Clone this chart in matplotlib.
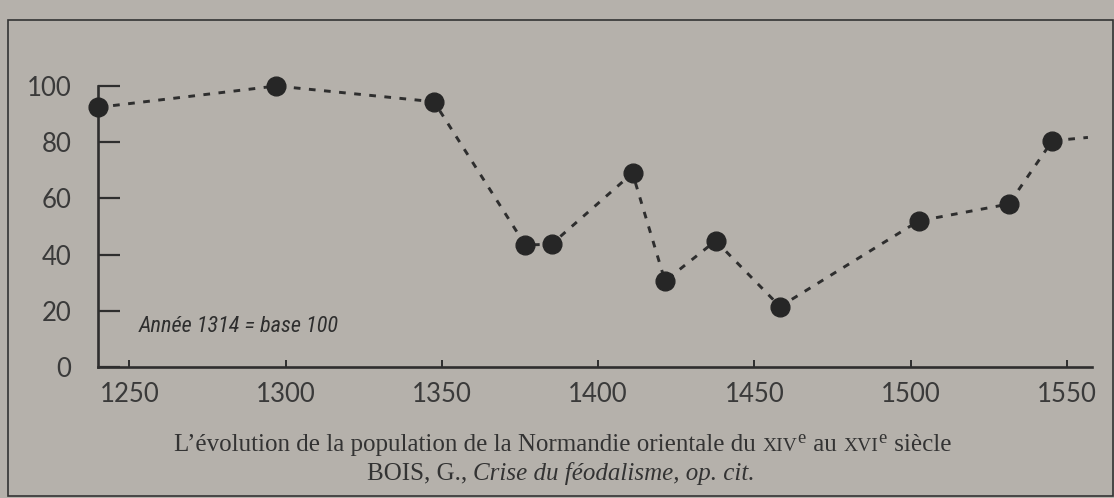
import matplotlib
matplotlib.use("Agg")
import matplotlib.pyplot as plt
import matplotlib.font_manager as fm
from matplotlib.patches import Rectangle
from matplotlib.offsetbox import TextArea, HPacker, AnnotationBbox

plt.rcParams["mathtext.fontset"] = "custom"
plt.rcParams["mathtext.rm"] = "Liberation Serif"

# data (index, 1314 = 100)
years = [1240, 1297, 1347.5, 1376.7, 1385.1, 1411, 1421.4, 1437.6, 1458.2, 1502.6, 1531.4, 1545.3]
index = [92.4, 100, 94.4, 43.4, 43.7, 69, 30.6, 44.9, 21.5, 52, 58, 80.5]
tail_year, tail_value = 1556.7, 81.7  # dashed line runs on past the last dot
x_ticks = [1250, 1300, 1350, 1400, 1450, 1500, 1550]
y_ticks = [0, 20, 40, 60, 80, 100]

bg = "#b5b1ab"
ink = "#2e2e2e"


def find_condensed_italic(weights):
    for key in ["RobotoCondensed", "LiberationSansNarrow", "SansCondensed", "Condensed", "Narrow"]:
        for f in fm.fontManager.ttflist:
            if key in f.fname.replace("-", "").replace(" ", ""):
                if f.style in ("italic", "oblique") and f.weight in weights:
                    return f.fname
    return None


# a condensed italic face for the note
narrow = find_condensed_italic((400, "normal", "regular")) or find_condensed_italic((300, "light"))
if narrow:
    note_font = fm.FontProperties(fname=narrow, size=16)
else:
    note_font = fm.FontProperties(family="DejaVu Sans", style="italic", size=13.5)

fig = plt.figure(figsize=(11.14, 4.98), dpi=100, facecolor=bg)
ax = fig.add_axes([98 / 1114, 131 / 498, 994 / 1114, 281 / 498])
ax.set_facecolor(bg)

ax.plot(years + [tail_year], index + [tail_value], color=ink, lw=2.1,
        linestyle=(0, (2.3, 2.9)), clip_on=False, zorder=2)
ax.plot(years, index, "o", color="#262626", ms=13.5, clip_on=False, zorder=3)

ax.set_xlim(1240, 1558)
ax.set_ylim(0, 100)
ax.set_xticks(x_ticks)
ax.set_yticks(y_ticks)
for s in ["top", "right"]:
    ax.spines[s].set_visible(False)
for s in ["left", "bottom"]:
    ax.spines[s].set_linewidth(1.9)
    ax.spines[s].set_color(ink)

ax.tick_params(axis="y", direction="in", length=16, width=1.6, color=ink,
               pad=19, labelcolor="#3a3a3a")
ax.tick_params(axis="x", direction="in", length=5, width=1.4, color=ink,
               pad=11, labelcolor="#3a3a3a")
for lab in ax.get_xticklabels() + ax.get_yticklabels():
    lab.set_fontfamily(["Lato", "DejaVu Sans"])
    lab.set_fontsize(18.5)

ax.text(1253, 12.5, "Année 1314 = base 100", ha="left", va="baseline",
        fontproperties=note_font, color="#2e2e2e")

# caption, with small caps centuries
serif = dict(family="Liberation Serif", color="#333333")
big, small = 18, 14
parts = [
    TextArea("L’évolution de la population de la Normandie orientale du ",
             textprops=dict(size=big, **serif)),
    TextArea("XIV", textprops=dict(size=small, **serif)),
    TextArea(r"$^{\mathrm{e}}$", textprops=dict(size=big + 1, **serif)),
    TextArea(" au ", textprops=dict(size=big, **serif)),
    TextArea("XVI", textprops=dict(size=small, **serif)),
    TextArea(r"$^{\mathrm{e}}$", textprops=dict(size=big + 1, **serif)),
    TextArea(" siècle", textprops=dict(size=big, **serif)),
]
line1 = HPacker(children=parts, align="baseline", pad=0, sep=0)
ab1 = AnnotationBbox(line1, (563 / 1114, 1 - 445 / 498), xycoords="figure fraction",
                     frameon=False, box_alignment=(0.5, 0.5), annotation_clip=False)
ax.add_artist(ab1)

parts2 = [
    TextArea("BOIS, G., ", textprops=dict(size=big, **serif)),
    TextArea("Crise du féodalisme, op. cit.", textprops=dict(size=big, style="italic", **serif)),
]
line2 = HPacker(children=parts2, align="baseline", pad=0, sep=0)
ab2 = AnnotationBbox(line2, (561 / 1114, 1 - 473 / 498), xycoords="figure fraction",
                     frameon=False, box_alignment=(0.5, 0.5), annotation_clip=False)
ax.add_artist(ab2)

# the printed frame round the figure
fig.patches.append(Rectangle((8 / 1114, 2 / 498), 1105 / 1114, 476 / 498,
                             transform=fig.transFigure, fill=False,
                             edgecolor="#333333", lw=1.2))

fig.savefig("out.png", dpi=100, facecolor=bg)
